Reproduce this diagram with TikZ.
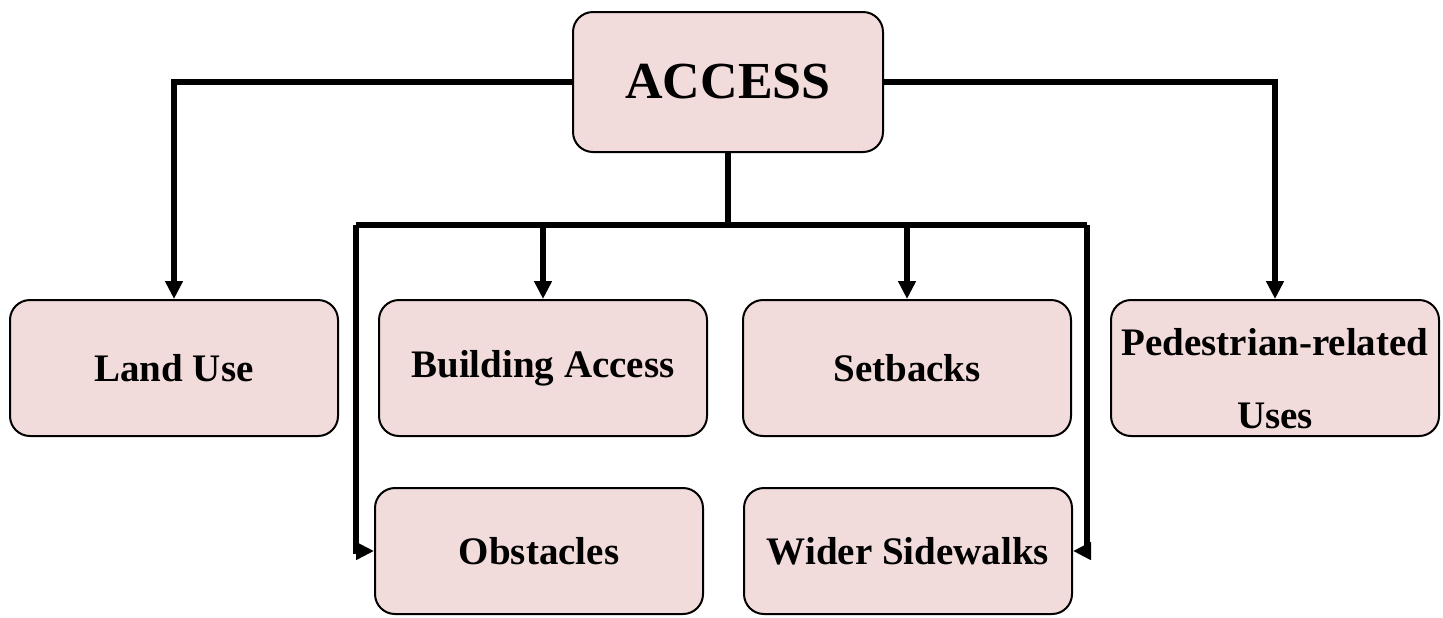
\documentclass[tikz,border=0pt]{standalone}
\usepackage{fontspec}
\setmainfont{Liberation Serif}
\usetikzlibrary{positioning,arrows.meta}
\definecolor{boxpink}{RGB}{242,220,219}
\begin{document}
\begin{tikzpicture}[x=0.5pt,y=-0.5pt,
	every node/.style={rounded corners=10pt,draw,line width=1pt,fill=boxpink,align=center,inner sep=1pt,
		font=\bfseries\fontsize{19.5}{36.5}\selectfont,minimum width=164pt,minimum height=68pt},
	link/.style={line width=2.8pt},
	arr/.style={link,-{Triangle[length=9pt,width=8.5pt]}}]
\useasboundingbox (0,0) rectangle (1443,617);
\node[minimum width=155pt,minimum height=70pt,font=\bfseries\fontsize{26}{30}\selectfont] (access) at (728,82) {ACCESS};
\node (landuse) at (174,368) {Land Use};
\node (building) at (543,368) {Building Access};
\node (setbacks) at (907,368) {Setbacks};
\node (pedestrian) at (1275,368) {\rule{0pt}{24pt}Pedestrian-related\\Uses};
\node[minimum height=63pt] (obstacles) at (539,551) {Obstacles};
\node[minimum height=63pt] (sidewalks) at (908,551) {Wider Sidewalks};
% bus under ACCESS
\coordinate (busL) at (356,225);
\coordinate (busR) at (1087,225);
\draw[link] (access.south) -- (access.south |- busL);
\draw[link] (busL) -- (busR);
\draw[arr] (access.west) -| (landuse.north);
\draw[arr] (access.east) -| (pedestrian.north);
\draw[arr] (building.north |- busL) -- (building.north);
\draw[arr] (setbacks.north |- busL) -- (setbacks.north);
\draw[arr] (busL) |- (obstacles.west);
\draw[arr] (busR) |- (sidewalks.east);
\end{tikzpicture}
\end{document}
